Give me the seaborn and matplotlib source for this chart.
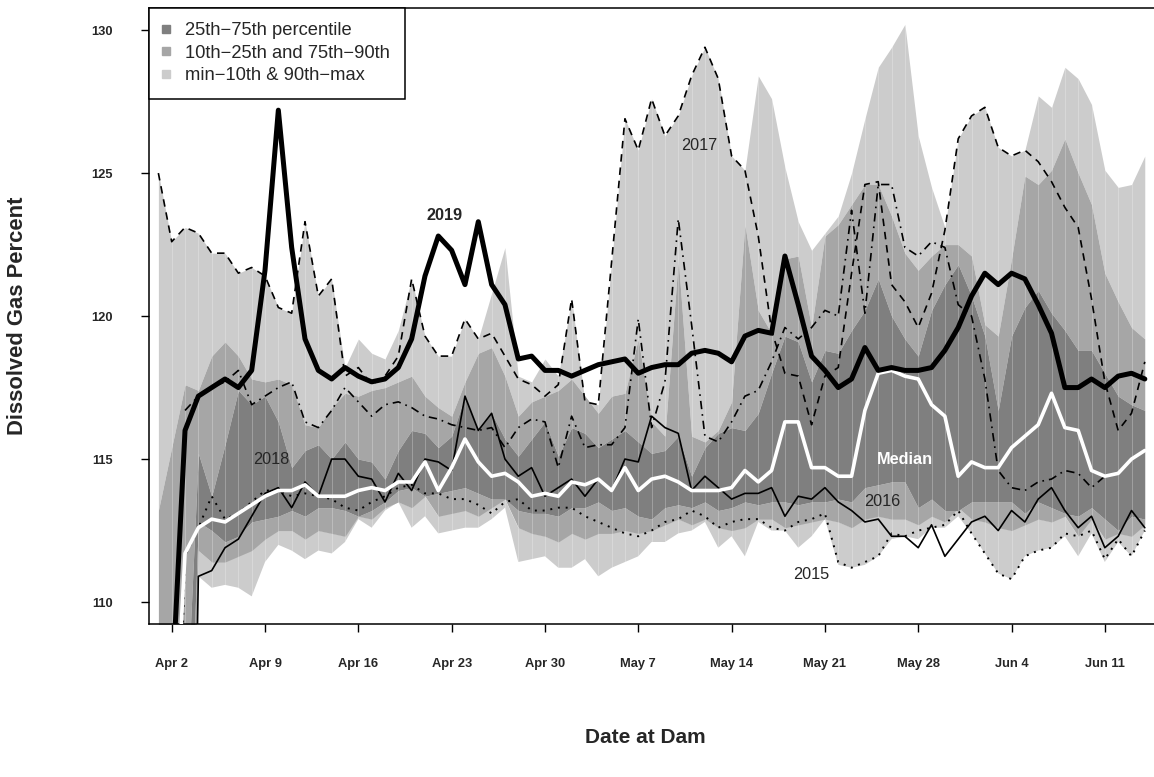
import numpy as np
import pandas as pd
import matplotlib
matplotlib.use("Agg")
import matplotlib.pyplot as plt
import seaborn as sns
from matplotlib.lines import Line2D

# ---------------- data ----------------
start_date = "2019-04-01"
n_days = 75
tick_labels = ["Apr 2", "Apr 9", "Apr 16", "Apr 23", "Apr 30", "May 7",
               "May 14", "May 21", "May 28", "Jun 4", "Jun 11"]
y_ticks = [110, 115, 120, 125, 130]
legend_labels = ["25th\u221275th percentile", "10th\u221225th and 75th\u221290th",
                 "min\u221210th & 90th\u2212max"]

p_max = [125.0, 122.6, 123.1, 122.9, 122.2, 122.2, 121.5, 121.7, 121.4, 120.3,
         120.1, 123.3, 120.7, 121.3, 118.2, 119.2, 118.7, 118.5, 119.5, 121.3,
         119.3, 118.6, 118.6, 119.9, 119.2, 120.8, 122.4, 117.9, 117.7, 118.5,
         117.9, 120.6, 117.0, 116.9, 121.9, 126.9, 125.8, 127.6, 126.3, 127.0,
         128.4, 129.4, 128.3, 125.6, 125.1, 128.4, 127.6, 125.2, 123.3, 122.3,
         122.9, 123.5, 125.0, 126.9, 128.7, 129.4, 130.2, 126.3, 124.5, 123.1,
         126.2, 127.0, 127.3, 125.9, 125.6, 125.8, 127.7, 127.3, 128.7, 128.3,
         127.4, 125.1, 124.5, 124.6, 125.6]
p90 = [113.2, 115.4, 117.6, 117.4, 118.6, 119.1, 118.6, 117.8, 117.7, 117.8,
       117.6, 116.2, 116.1, 116.8, 117.3, 117.2, 117.4, 117.5, 117.7, 117.9,
       117.2, 116.8, 116.5, 117.7, 118.7, 118.9, 117.9, 116.5, 117.0, 117.2,
       117.4, 117.8, 117.2, 116.6, 117.2, 117.3, 119.2, 116.3, 115.8, 122.0,
       115.8, 115.6, 116.0, 117.0, 123.2, 120.2, 119.4, 122.0, 122.1, 119.6,
       122.8, 123.2, 123.9, 124.6, 124.6, 123.5, 122.2, 121.6, 122.1, 122.5,
       122.5, 122.1, 119.7, 119.3, 122.0, 124.9, 124.6, 125.1, 126.2, 125.0,
       123.9, 121.5, 120.5, 119.6, 119.2]
p75 = [105.0, 105.0, 105.0, 115.2, 113.7, 115.5, 117.4, 116.9, 117.2, 116.3,
       114.7, 115.3, 115.5, 115.0, 115.6, 115.0, 114.9, 114.3, 115.3, 116.0,
       115.9, 115.4, 115.8, 117.2, 116.0, 116.6, 115.7, 115.1, 115.7, 116.3,
       115.1, 116.1, 115.9, 115.4, 115.7, 116.0, 115.6, 115.2, 115.3, 115.8,
       114.4, 115.4, 115.9, 116.1, 116.0, 116.6, 118.0, 119.3, 119.1, 117.7,
       118.8, 118.7, 119.5, 120.2, 121.3, 120.0, 119.2, 118.6, 120.2, 121.1,
       121.8, 120.7, 119.3, 116.7, 119.3, 120.3, 120.9, 120.1, 119.5, 118.8,
       118.8, 118.0, 117.2, 116.9, 116.7]
p25 = [100.0, 100.0, 100.0, 112.8, 112.5, 112.1, 112.3, 112.8, 112.9, 113.0,
       113.2, 113.0, 113.3, 113.3, 113.2, 113.0, 113.2, 113.5, 113.9, 114.0,
       113.7, 113.8, 113.9, 114.0, 113.8, 113.6, 113.6, 113.2, 113.1, 113.1,
       113.0, 113.3, 113.3, 113.5, 113.2, 113.3, 113.0, 112.9, 113.3, 113.4,
       113.3, 113.5, 113.2, 113.3, 113.5, 113.4, 113.5, 113.5, 113.4, 113.5,
       113.5, 113.6, 113.5, 114.0, 114.1, 114.2, 114.2, 113.3, 113.6, 113.2,
       113.2, 113.5, 113.5, 113.5, 113.5, 113.1, 113.5, 113.3, 113.1, 113.0,
       113.3, 112.9, 112.5, 113.0, 112.9]
p10 = [95.0, 95.0, 95.0, 111.8, 111.4, 111.4, 111.6, 111.8, 112.2, 112.5,
       112.5, 112.2, 112.5, 112.4, 112.3, 113.0, 112.9, 113.3, 113.5, 113.3,
       113.7, 113.0, 113.1, 113.2, 113.0, 113.3, 113.6, 112.6, 112.4, 112.3,
       112.1, 112.4, 112.2, 112.4, 112.4, 112.5, 112.4, 112.5, 112.7, 112.9,
       112.7, 112.9, 112.6, 112.5, 112.6, 112.9, 112.9, 112.6, 112.7, 112.8,
       112.9, 112.8, 112.6, 112.9, 113.0, 112.9, 112.9, 112.7, 113.0, 112.8,
       113.3, 112.9, 112.8, 112.6, 112.5, 112.7, 112.9, 112.8, 113.0, 112.3,
       112.9, 112.2, 112.4, 112.3, 112.7]
p_min = [90.0, 90.0, 85.0, 110.9, 110.5, 110.6, 110.5, 110.2, 111.4, 112.0,
         111.8, 111.5, 111.8, 111.7, 112.1, 112.9, 112.6, 113.2, 113.5, 112.6,
         113.0, 112.4, 112.5, 112.6, 112.6, 112.9, 113.3, 111.4, 111.5, 111.6,
         111.2, 111.2, 111.5, 110.9, 111.2, 111.4, 111.6, 112.1, 112.1, 112.4,
         112.5, 112.8, 111.9, 112.3, 111.6, 112.8, 112.5, 112.5, 111.9, 112.3,
         112.9, 111.3, 111.2, 111.3, 111.6, 112.2, 112.3, 112.2, 112.6, 112.6,
         113.0, 112.4, 111.7, 111.0, 110.8, 111.6, 111.8, 111.9, 112.3, 111.6,
         112.4, 111.4, 112.1, 111.6, 112.5]
median = [np.nan, 103.0, 111.7, 112.6, 112.9, 112.8, 113.1, 113.4, 113.7, 113.9,
          113.9, 114.1, 113.7, 113.7, 113.7, 113.9, 114.0, 113.9, 114.2, 114.2,
          114.9, 113.9, 114.7, 115.7, 114.9, 114.4, 114.5, 114.2, 113.7, 113.8,
          113.7, 114.2, 114.1, 114.3, 113.9, 114.7, 113.9, 114.3, 114.4, 114.2,
          113.9, 113.9, 113.9, 114.0, 114.6, 114.2, 114.6, 116.3, 116.3, 114.7,
          114.7, 114.4, 114.4, 116.7, 118.0, 118.1, 117.9, 117.8, 116.9, 116.5,
          114.4, 114.9, 114.7, 114.7, 115.4, 115.8, 116.2, 117.3, 116.1, 116.0,
          114.6, 114.4, 114.5, 115.0, 115.3]
y2015 = [np.nan, 96.0, 111.6, 112.6, 113.7, 112.9, 113.1, 113.5, 113.9, 113.9,
         113.7, 113.8, 113.7, 113.6, 113.3, 113.2, 113.5, 113.7, 114.0, 114.1,
         113.8, 113.8, 113.6, 113.6, 113.4, 113.1, 113.5, 113.6, 113.2, 113.2,
         113.3, 113.3, 113.0, 112.8, 112.6, 112.4, 112.3, 112.5, 112.8, 112.9,
         113.2, 113.0, 112.6, 112.8, 112.9, 112.9, 112.6, 112.5, 112.8, 112.9,
         113.1, 111.4, 111.2, 111.4, 111.6, 112.4, 112.3, 112.5, 112.6, 112.7,
         113.2, 112.4, 111.7, 111.0, 110.8, 111.6, 111.8, 111.9, 112.4, 112.3,
         112.5, 111.5, 112.2, 111.6, 112.5]
y2016 = [np.nan, np.nan, 85.0, 110.9, 111.1, 111.9, 112.2, 113.0, 113.8, 114.0,
         113.3, 114.2, 113.7, 115.0, 115.0, 114.4, 114.3, 113.5, 114.5, 113.9,
         115.0, 114.9, 114.6, 117.2, 116.0, 116.6, 115.0, 114.4, 114.7, 113.7,
         114.0, 114.3, 113.7, 114.3, 113.9, 115.0, 114.9, 116.5, 116.1, 115.9,
         113.9, 114.4, 114.0, 113.6, 113.8, 113.8, 114.0, 113.0, 113.7, 113.6,
         114.0, 113.5, 113.2, 112.8, 112.9, 112.3, 112.3, 111.9, 112.7, 111.6,
         112.2, 112.8, 113.0, 112.5, 113.2, 112.8, 113.6, 114.0, 113.2, 112.6,
         113.0, 111.9, 112.3, 113.2, 112.6]
y2017 = [125.0, 122.6, 123.1, 122.9, 122.2, 122.2, 121.5, 121.7, 121.4, 120.3,
         120.1, 123.3, 120.7, 121.3, 117.9, 118.2, 117.6, 117.9, 118.6, 121.3,
         119.3, 118.6, 118.6, 119.9, 119.2, 119.4, 118.6, 117.8, 117.6, 117.2,
         117.6, 120.6, 117.0, 116.9, 121.9, 126.9, 125.8, 127.6, 126.3, 127.0,
         128.4, 129.4, 128.3, 125.6, 125.1, 122.8, 119.5, 118.0, 117.9, 116.2,
         117.9, 118.2, 121.5, 124.6, 124.7, 121.1, 120.5, 119.6, 120.8, 123.0,
         126.2, 127.0, 127.3, 125.9, 125.6, 125.8, 125.4, 124.7, 123.8, 123.1,
         120.6, 117.7, 116.0, 116.6, 118.4]
y2018 = [np.nan, np.nan, 116.7, 117.2, 117.5, 117.7, 118.1, 116.9, 117.2, 117.5,
         117.7, 116.3, 116.1, 116.7, 117.5, 117.0, 116.5, 116.9, 117.0, 116.8,
         116.5, 116.4, 116.2, 116.1, 116.0, 116.1, 115.4, 116.1, 116.4, 116.3,
         114.7, 116.5, 115.4, 115.5, 115.5, 116.1, 119.9, 116.1, 117.7, 123.4,
         119.7, 115.8, 115.6, 116.3, 117.2, 117.4, 118.4, 119.6, 119.2, 119.6,
         120.2, 120.0, 123.7, 120.1, 124.6, 124.6, 122.4, 122.1, 122.6, 122.4,
         120.4, 120.0, 117.8, 114.6, 114.0, 113.9, 114.2, 114.3, 114.6, 114.5,
         114.0, 114.4, 114.5, 115.0, 115.3]
y2019 = [np.nan, 106.7, 116.0, 117.2, 117.5, 117.8, 117.5, 118.1, 121.6, 127.2,
         122.4, 119.2, 118.1, 117.8, 118.2, 117.9, 117.7, 117.8, 118.2, 119.2,
         121.4, 122.8, 122.3, 121.1, 123.3, 121.1, 120.4, 118.5, 118.6, 118.1,
         118.1, 117.9, 118.1, 118.3, 118.4, 118.5, 118.0, 118.2, 118.3, 118.3,
         118.7, 118.8, 118.7, 118.4, 119.3, 119.5, 119.4, 122.1, 120.4, 118.6,
         118.1, 117.5, 117.8, 118.9, 118.1, 118.2, 118.1, 118.1, 118.2, 118.8,
         119.6, 120.7, 121.5, 121.1, 121.5, 121.3, 120.4, 119.4, 117.5, 117.5,
         117.8, 117.5, 117.9, 118.0, 117.8]

# ---------------- styling ----------------
sns.set_theme(style="white")
plt.rcParams["font.family"] = ["Liberation Sans", "DejaVu Sans"]

DARK, MID, LIGHT = "#7f7f7f", "#a6a6a6", "#cccccc"

day = np.arange(n_days)
t0 = pd.Timestamp(start_date)
tick_pos = [(pd.Timestamp(lbl + " 2019") - t0).days for lbl in tick_labels]

W, H = 1154, 777
fig = plt.figure(figsize=(W / 100, H / 100), dpi=100)
x0, x1, ytop, ybot = 148.5, 1154.7, 7.5, 623.5
ax = fig.add_axes([x0 / W, 1 - ybot / H, (x1 - x0) / W, (ybot - ytop) / H])

# percentile bands
ax.fill_between(day, p_min, p10, color=LIGHT, lw=0, zorder=1)
ax.fill_between(day, p90, p_max, color=LIGHT, lw=0, zorder=1)
ax.fill_between(day, p10, p25, color=MID, lw=0, zorder=1.1)
ax.fill_between(day, p75, p90, color=MID, lw=0, zorder=1.1)
ax.fill_between(day, p25, p75, color=DARK, lw=0, zorder=1.2)
# polygon seams (one polygon per day in the original)
ax.vlines(day, 100, 135, colors="white", lw=0.6, alpha=0.3, zorder=1.5)

line_kw = dict(ax=ax, estimator=None, legend=False)
sns.lineplot(x=day, y=y2015, color="black", lw=1.4, linestyle=(0, (1, 3)), zorder=3, **line_kw)
sns.lineplot(x=day, y=y2016, color="black", lw=1.2, zorder=3, **line_kw)
sns.lineplot(x=day, y=y2017, color="black", lw=1.2, linestyle=(0, (4.5, 3.5)), zorder=3, **line_kw)
sns.lineplot(x=day, y=y2018, color="black", lw=1.2, linestyle=(0, (5, 3, 1, 3)), zorder=3, **line_kw)
sns.lineplot(x=day, y=median, color="white", lw=2.6, zorder=4,
             solid_joinstyle="round", solid_capstyle="round", **line_kw)
sns.lineplot(x=day, y=y2019, color="black", lw=3.6, zorder=5,
             solid_joinstyle="round", solid_capstyle="round", **line_kw)

# annotations
ann_fs = 11.7
ax.text(40.6, 125.98, "2017", fontsize=ann_fs, ha="center", va="center", zorder=6)
ax.text(21.5, 123.5, "2019", fontsize=ann_fs, fontweight="bold", ha="center", va="center", zorder=6)
ax.text(8.5, 114.97, "2018", fontsize=ann_fs, ha="center", va="center", zorder=6)
ax.text(56.0, 114.97, "Median", fontsize=ann_fs, fontweight="bold", color="white",
        ha="center", va="center", zorder=6)
ax.text(54.3, 113.53, "2016", fontsize=ann_fs, ha="center", va="center", zorder=6)
ax.text(49.0, 110.98, "2015", fontsize=ann_fs, ha="center", va="center", zorder=6)

# axes
ax.set_xlim(-0.74, 74.74)
ax.set_ylim(109.25, 130.79)
ax.set_xticks(tick_pos)
ax.set_xticklabels(tick_labels, fontweight="bold", fontsize=9.3)
ax.set_yticks(y_ticks)
ax.set_yticklabels([str(v) for v in y_ticks], fontweight="bold", fontsize=9.3)
ax.tick_params(axis="both", direction="out", length=5.5, width=1.0, color="black",
               bottom=True, left=True)
ax.tick_params(axis="x", pad=19)
ax.tick_params(axis="y", pad=20)
for s in ax.spines.values():
    s.set_visible(True)
    s.set_color("black")
    s.set_linewidth(1.1)
ax.grid(False)
ax.set_facecolor("white")

ax.set_xlabel("Date at Dam", fontsize=15, fontweight="bold")
ax.set_ylabel("Dissolved Gas Percent", fontsize=15.8, fontweight="bold")
ax.xaxis.set_label_coords((645 - x0) / (x1 - x0), -(728 - ybot) / (ybot - ytop))
ax.yaxis.set_label_coords((28 - x0) / (x1 - x0), (ybot - 316) / (ybot - ytop))

handles = [Line2D([], [], marker="s", ls="none", color=c, markersize=6.2) for c in (DARK, MID, LIGHT)]
leg = ax.legend(handles, legend_labels, loc="upper left", fontsize=13.2, frameon=True,
                fancybox=False, edgecolor="black", framealpha=1, borderaxespad=0,
                handletextpad=0.87, handlelength=0.32, labelspacing=0.3, borderpad=0.8)
leg.get_frame().set_linewidth(1.1)
leg.set_zorder(10)

fig.savefig("out.png", dpi=100)
